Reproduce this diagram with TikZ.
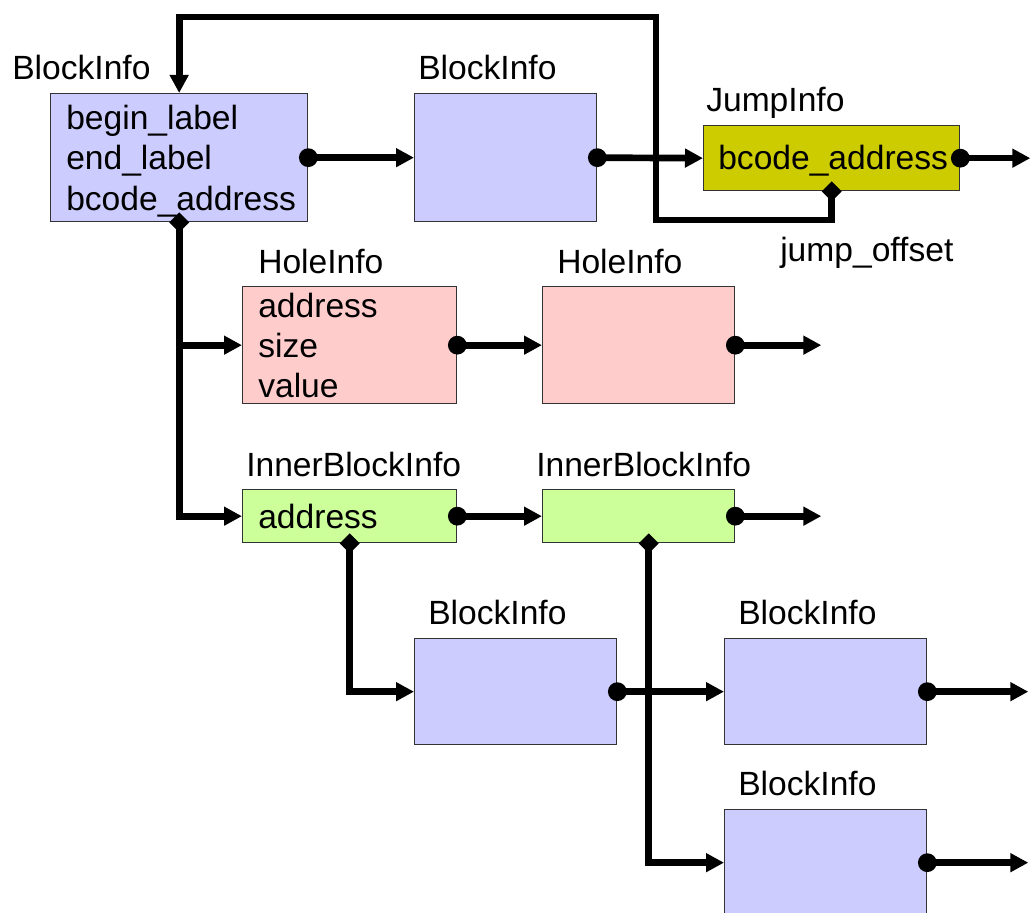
\documentclass[tikz,border=0pt]{standalone}
\usepackage{fontspec}
\setmainfont{Liberation Sans}
\usetikzlibrary{arrows.meta,positioning}
\definecolor{blockfill}{HTML}{CCCCFF}
\definecolor{holefill}{HTML}{FFCCCC}
\definecolor{innerfill}{HTML}{CCFF99}
\definecolor{jumpfill}{HTML}{CCCC00}

\begin{document}
\begin{tikzpicture}[
  x=0.75pt, y=-0.75pt,
  infobox/.style={draw=black!80, line width=1pt, anchor=north west, inner sep=0pt},
  blockbox/.style={infobox, fill=blockfill},
  holebox/.style={infobox, fill=holefill},
  innerbox/.style={infobox, fill=innerfill},
  jumpbox/.style={infobox, fill=jumpfill},
  txt/.style={anchor=base west, inner sep=0pt, font=\fontsize{25.2}{30}\selectfont},
  link/.style={line width=5pt, -{Triangle[length=13.5pt,width=13.5pt]}},
  fromside/.style={link, {Circle[length=14pt]}-{Triangle[length=13.5pt,width=13.5pt]}, shorten <=-7pt},
  frombottom/.style={link, {Diamond[length=15pt,width=15pt]}-{Triangle[length=13.5pt,width=13.5pt]}, shorten <=-7.5pt}
]
\useasboundingbox (0,0) rectangle (1031,913);

% boxes
\node[blockbox, minimum width=192.75pt, minimum height=96pt] (bi1) at (50,93) {};
\node[blockbox, minimum width=136.5pt, minimum height=96pt] (bi2) at (414,93) {};
\node[jumpbox, minimum width=192pt, minimum height=48.75pt] (ji) at (703,125) {};
\node[holebox, minimum width=160.5pt, minimum height=87.75pt] (hi1) at (242,286) {};
\node[holebox, minimum width=144pt, minimum height=87.75pt] (hi2) at (542,286) {};
\node[innerbox, minimum width=160.5pt, minimum height=39.75pt] (ibi1) at (242,489) {};
\node[innerbox, minimum width=144pt, minimum height=39.75pt] (ibi2) at (542,489) {};
\node[blockbox, minimum width=151.5pt, minimum height=79.5pt] (bi3) at (414,638) {};
\node[blockbox, minimum width=151.5pt, minimum height=79.5pt] (bi4) at (724,638) {};
\node[blockbox, minimum width=151.5pt, minimum height=79.5pt] (bi5) at (724,809) {};

% titles
\node[txt] (bi1t) at (12,80) {BlockInfo};
\node[txt] (bi2t) at (418,80) {BlockInfo};
\node[txt] (jit) at (706,112) {JumpInfo};
\node[txt] (hi1t) at (258,273) {HoleInfo};
\node[txt] (hi2t) at (557,273) {HoleInfo};
\node[txt] (ibi1t) at (246,476) {InnerBlockInfo};
\node[txt] (ibi2t) at (536,476) {InnerBlockInfo};
\node[txt] (bi3t) at (428,624) {BlockInfo};
\node[txt] (bi4t) at (738,624) {BlockInfo};
\node[txt] (bi5t) at (738,795) {BlockInfo};
\node[txt] (offs) at (780,261) {jump\_offset};

% fields
\node[txt] (beg) at (66,130) {begin\_label};
\node[txt] (endl) at (66,170) {end\_label};
\node[txt] (bcode) at (66,210) {bcode\_address};
\node[txt] (jbcode) at (718,170) {bcode\_address};
\node[txt] (haddr) at (258,317) {address};
\node[txt] (hsize) at (258,357) {size};
\node[txt] (hval) at (258,397) {value};
\node[txt] (iaddr) at (258,528) {address};

% connectors
\draw[fromside] (bi1.east) -- (bi2.west);
\draw[fromside] (bi2.east) -- (ji.west);
\draw[fromside] (ji.east) -- ++(70,0);
\draw[frombottom] (ji.south) |- (656,220) -- (656,17) -| (bi1.north);
\draw[frombottom] (bi1.south) |- (ibi1.west);
\draw[link] (bi1.south |- hi1.west) -- (hi1.west);
\draw[fromside] (hi1.east) -- (hi2.west);
\draw[fromside] (hi2.east) -- ++(86,0);
\draw[fromside] (ibi1.east) -- (ibi2.west);
\draw[fromside] (ibi2.east) -- ++(86,0);
\draw[frombottom] (ibi1.south) |- (bi3.west);
\draw[frombottom] ([xshift=7.5pt]ibi2.south) |- (bi5.west);
\draw[fromside] (bi3.east) -- (bi4.west);
\draw[fromside] (bi4.east) -- ++(101,0);
\draw[fromside] (bi5.east) -- ++(101,0);
\end{tikzpicture}
\end{document}
